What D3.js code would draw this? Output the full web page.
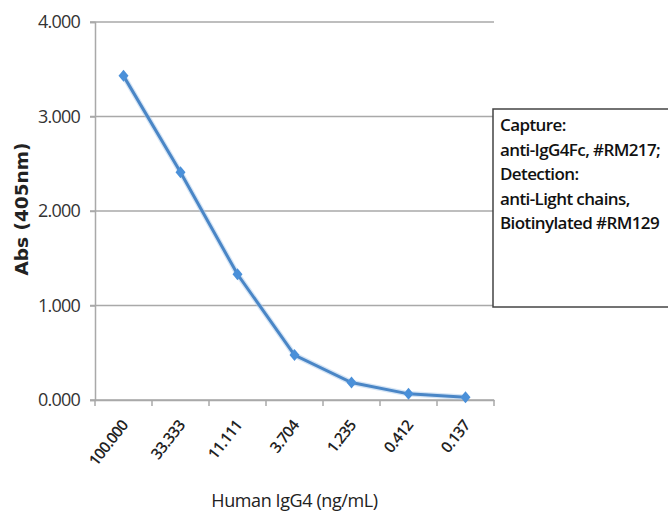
<!DOCTYPE html>
<html><head><meta charset="utf-8">
<script src="https://cdn.jsdelivr.net/npm/d3@7"></script>
<style>body{margin:0;background:#fff;}svg{display:block;}</style>
</head><body>
<svg id="c" width="668" height="512"></svg>
<script>
const categories = ["100.000","33.333","11.111","3.704","1.235","0.412","0.137"];
const values = [3.43, 2.41, 1.33, 0.476, 0.185, 0.065, 0.028];
const yTicks = [0, 1, 2, 3, 4];
const legendLines = ["Capture:", "anti-IgG4Fc, #RM217;", "Detection:", "anti-Light chains,", "Biotinylated #RM129"];
const xTitle = "Human IgG4 (ng/mL)";
const yTitle = "Abs (405nm)";

const svg = d3.select("#c");
const L = 95, R = 494, T = 22, B = 400;
const x = d3.scaleBand().domain(categories).range([L, R]);
const y = d3.scaleLinear().domain([0, 4]).range([B, T]);
const grid = "#a9a9a9";
const font = "'Open Sans', sans-serif";

// gridlines
svg.append("g").selectAll("line").data(yTicks).join("line")
  .attr("x1", L - 5).attr("x2", R).attr("y1", d => y(d)).attr("y2", d => y(d))
  .attr("stroke", grid).attr("stroke-width", 1.5);

// y axis
const ya = svg.append("g").attr("transform", `translate(${L},0)`)
  .call(d3.axisLeft(y).tickValues(yTicks).tickFormat(d3.format(".3f")).tickSize(5).tickPadding(10));
ya.select(".domain").attr("stroke", grid).attr("stroke-width", 1.5);
ya.selectAll(".tick line").attr("stroke", grid).attr("stroke-width", 1.5);
ya.selectAll("text").attr("font-family", font).attr("font-size", 18).attr("fill", "#333").attr("letter-spacing", -0.8);

// x axis
const xa = svg.append("g").attr("transform", `translate(0,${B})`)
  .call(d3.axisBottom(x).tickSize(0).tickFormat(""));
xa.select(".domain").attr("stroke", grid).attr("stroke-width", 1.5);
const bounds = categories.map(c => x(c)).concat([R]);
svg.append("g").selectAll("line").data(bounds).join("line")
  .attr("x1", d => d).attr("x2", d => d).attr("y1", B).attr("y2", B + 6)
  .attr("stroke", grid).attr("stroke-width", 1.5);
svg.append("g").selectAll("text").data(categories).join("text")
  .attr("transform", d => `translate(${x(d) + x.bandwidth() / 2 + 2},${B + 23}) rotate(-52)`)
  .attr("text-anchor", "end").attr("dominant-baseline", "middle")
  .attr("font-family", font).attr("font-weight", 600).attr("font-size", 15.5).attr("fill", "#222").attr("letter-spacing", -0.7)
  .text(d => d);

// line
const cx = d => x(d) + x.bandwidth() / 2;
const pts = categories.map((c, i) => [cx(c), y(values[i])]);
svg.append("path").attr("d", d3.line()(pts)).attr("fill", "none")
  .attr("stroke", "#a9c9ec").attr("stroke-width", 5.5).attr("opacity", 0.5);
svg.append("path").attr("d", d3.line()(pts)).attr("fill", "none")
  .attr("stroke", "#4a86c6").attr("stroke-width", 3);
svg.append("g").selectAll("path").data(pts).join("path")
  .attr("transform", d => `translate(${d[0]},${d[1]})`)
  .attr("d", "M0,-6L5,0L0,6L-5,0Z").attr("fill", "#4a90d9");

// titles
svg.append("text").attr("x", (L + R) / 2).attr("y", 507).attr("text-anchor", "middle")
  .attr("font-family", font).attr("font-weight", 500).attr("font-size", 18).attr("fill", "#222").attr("letter-spacing", -0.4).text(xTitle);
svg.append("text").attr("transform", `translate(28,209) rotate(-90)`).attr("text-anchor", "middle")
  .attr("font-family", "'DejaVu Sans', sans-serif").attr("font-weight", "bold").attr("font-size", 18.5)
  .attr("fill", "#222").text(yTitle);

// legend
svg.append("rect").attr("x", 493).attr("y", 109).attr("width", 200).attr("height", 198)
  .attr("fill", "#fff").attr("stroke", "#444").attr("stroke-width", 1.5);
svg.append("g").selectAll("text").data(legendLines).join("text")
  .attr("x", 500).attr("y", (d, i) => 131 + i * 24.5)
  .attr("font-family", font).attr("font-weight", 600).attr("font-size", 17).attr("fill", "#111")
  .attr("letter-spacing", -0.6).text(d => d);
</script>
</body></html>
